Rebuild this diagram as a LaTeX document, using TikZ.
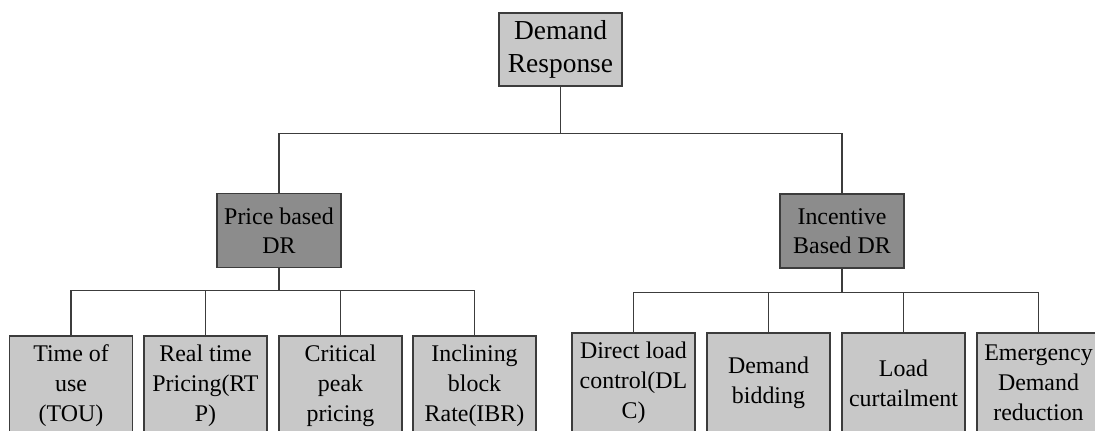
\documentclass[tikz,border=0pt]{standalone}
\usepackage{fontspec}
\setmainfont{Liberation Serif}
\definecolor{boxlight}{HTML}{C8C8C8}
\definecolor{boxdark}{HTML}{8C8C8C}
\definecolor{edgegray}{HTML}{3C3C3C}

\begin{document}
\begin{tikzpicture}[x=0.025cm,y=-0.025cm,
rootnode/.style={rectangle, draw=edgegray, fill=boxlight, line width=1.2pt, minimum width=3.075cm, minimum height=1.825cm, inner sep=2pt, align=center, font=\fontsize{19.5}{23.5}\selectfont},
groupnode/.style={rectangle, draw=edgegray, fill=boxdark, line width=1.2pt, minimum width=3.1cm, minimum height=1.85cm, inner sep=2pt, align=center, font=\fontsize{17}{21}\selectfont},
leafnode/.style={rectangle, draw=edgegray, fill=boxlight, line width=1.2pt, minimum width=3.075cm, minimum height=2.5cm, inner sep=2pt, align=center, font=\fontsize{17}{21.3}\selectfont},
link/.style={draw=edgegray, line width=0.9pt}
]
\clip (0,0) rectangle (1095,430);
\fill[white] (0,0) rectangle (1095,430);

%Nodes
\node[rootnode] at (560.5,49.5) (DR) {Demand\\Response};

\node[groupnode] at (279,230.5) (PRICE) {Price based\\DR};
\node[groupnode] at (842,231) (INCENTIVE) {Incentive\\Based DR};

\node[leafnode] at (71,386) (TOU) {Time of\\use\\(TOU)};
\node[leafnode] at (205.5,386) (RTP) {Real time\\Pricing(RT\\P)};
\node[leafnode] at (340.5,386) (CPP) {Critical\\peak\\pricing};
\node[leafnode] at (474.5,386) (IBR) {Inclining\\block\\Rate(IBR)};

\node[leafnode] at (633.5,383) (DLC) {Direct load\\control(DL\\C)};
\node[leafnode] at (768.5,383) (BID) {Demand\\bidding};
\node[leafnode] at (903.5,383) (CURT) {Load\\curtailment};
\node[leafnode] at (1038.5,383) (EDR) {Emergency\\Demand\\reduction};

%Lines
\draw[link] (DR.south) -- ++(0,47) -| (PRICE.north);
\draw[link] (DR.south) -- ++(0,47) -| (INCENTIVE.north);

\draw[link] (PRICE.south) -- ++(0,22) -| (TOU.north);
\draw[link] (PRICE.south) -- ++(0,22) -| (RTP.north);
\draw[link] (PRICE.south) -- ++(0,22) -| (CPP.north);
\draw[link] (PRICE.south) -- ++(0,22) -| (IBR.north);

\draw[link] (INCENTIVE.south) -- ++(0,24) -| (DLC.north);
\draw[link] (INCENTIVE.south) -- ++(0,24) -| (BID.north);
\draw[link] (INCENTIVE.south) -- ++(0,24) -| (CURT.north);
\draw[link] (INCENTIVE.south) -- ++(0,24) -| (EDR.north);
\end{tikzpicture}
\end{document}
